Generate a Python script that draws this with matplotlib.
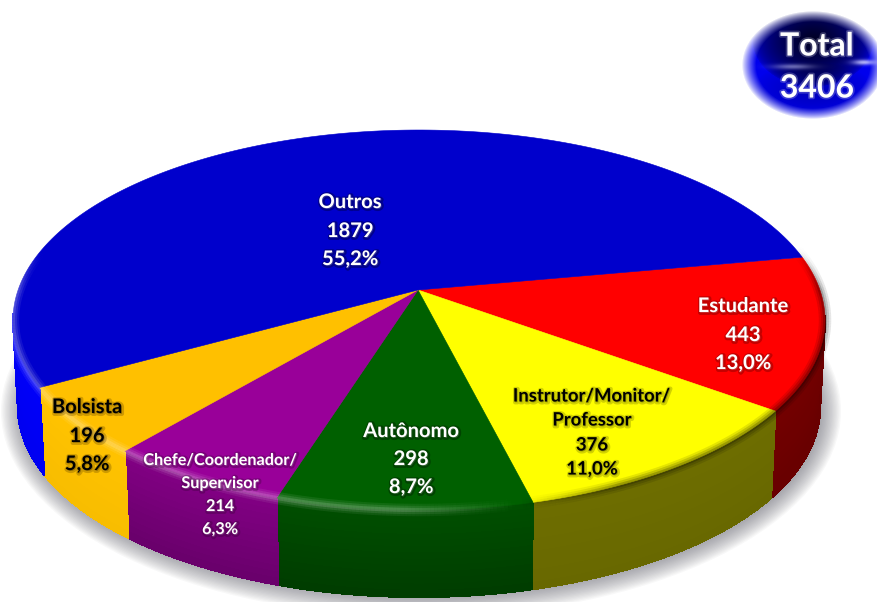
import numpy as np
import matplotlib
matplotlib.use('Agg')
import matplotlib.pyplot as plt
import matplotlib.patheffects as pe
from matplotlib.collections import PolyCollection, LineCollection
from matplotlib.patches import Polygon, Ellipse

# dados
categorias = ['Estudante', 'Instrutor/Monitor/\nProfessor', 'Autônomo',
              'Chefe/Coordenador/\nSupervisor', 'Bolsista', 'Outros']
valores = [443, 376, 298, 214, 196, 1879]
percentuais = ['13,0%', '11,0%', '8,7%', '6,3%', '5,8%', '55,2%']
total = 3406

# cores do topo e da lateral
cor_topo = ['#ff0000', '#ffff00', '#006000', '#990099', '#ffc000', '#0000cc']
cor_lado = ['#6e0000', '#6b6b00', '#004600', '#760078', '#fcc000', '#0000f5']
var_lado = [0.1, 0.05, 0.25, 0.2, 0.03, 0.03]
cor_texto = ['white', 'black', 'white', 'white', 'black', 'white']
cor_sombra = ['#400000', '#6b6b00', 'black', '#300030', '#604000', 'black']

# posicao dos rotulos (px) e tamanho da fonte
rot_x = [743, 592, 411, 220, 87, 350]
rot_y = [[306, 335, 363], [396, 420, 445, 469], [431, 459, 487],
         [461, 484, 507, 530], [407, 436, 464], [202, 231, 259]]
rot_fs = [14.5, 13.3, 14.5, 11.7, 14.5, 14.5]

# geometria do disco em perspectiva
cx, cy, rx, ry = 419, 320, 406, 190
apice = 0.158
inicio = 10.5
altura = 87

plt.rcParams['font.family'] = ['Lato', 'DejaVu Sans']
fig = plt.figure(figsize=(8.78, 6.02), dpi=100)
ax = fig.add_axes([0, 0, 1, 1])
ax.set_xlim(0, 878)
ax.set_ylim(602, 0)
ax.axis('off')


def projeta(theta):
    # circulo -> elipse, com o centro do circulo caindo no apice
    t = np.radians(theta)
    u, v = np.cos(t), np.sin(t)
    d = 1 + apice * v
    up = u * np.sqrt(1 - apice ** 2) / d
    vp = (v + apice) / d
    return cx + rx * up, cy - ry * vp


def clareia(cor, f):
    rgb = np.array(matplotlib.colors.to_rgb(cor)) * f
    return tuple(np.clip(rgb, 0, 1))


# sombra sob a pizza
for i in range(18):
    ax.add_patch(Ellipse((cx + 2, cy + altura + 4), 2 * (rx + 14 - i * 1.3), 2 * (ry + 16 - i * 1.3),
                         fc='#60606c', ec='none', alpha=0.045, zorder=1))

angulos = inicio - np.cumsum([0] + valores) / sum(valores) * 360

# lateral
for k, cor in enumerate(cor_lado):
    th = np.linspace(angulos[k], angulos[k + 1], 120)
    x, y = projeta(th)
    quads, cores = [], []
    faixas = 14
    for j in range(faixas):
        d0, d1 = altura * j / faixas, altura * (j + 1) / faixas
        f = 1 + var_lado[k] * (0.5 - j / (faixas - 1))
        for i in range(len(th) - 1):
            if y[i] < cy - 3 and y[i + 1] < cy - 3:
                continue
            e0 = 1 - 0.012 * d0 / altura
            e1 = 1 - 0.012 * d1 / altura
            quads.append([(cx + (x[i] - cx) * e0, y[i] + d0), (cx + (x[i + 1] - cx) * e0, y[i + 1] + d0),
                          (cx + (x[i + 1] - cx) * e1, y[i + 1] + d1), (cx + (x[i] - cx) * e1, y[i] + d1)])
            cores.append(clareia(cor, f))
    if quads:
        ax.add_collection(PolyCollection(quads, facecolors=cores, edgecolors=cores, linewidths=0.8,
                                         antialiaseds=False, zorder=2))

# topo
for k, cor in enumerate(cor_topo):
    th = np.linspace(angulos[k], angulos[k + 1], 200)
    x, y = projeta(th)
    pts = np.column_stack([np.r_[cx - 1, x], np.r_[cy - ry * apice, y]])
    ax.add_patch(Polygon(pts, closed=True, fc=cor, ec=cor, lw=0.4, zorder=3))

# brilho / escurecimento na borda
th = np.linspace(angulos[0], angulos[-1], 800)
x, y = projeta(th)
manter = y > cy - 70
x, y = x[manter], y[manter]
seg = np.stack([np.column_stack([x[:-1], y[:-1]]), np.column_stack([x[1:], y[1:]])], axis=1)
xm = (x[:-1] + x[1:]) / 2
ym = (y[:-1] + y[1:]) / 2
for lw, a in [(9, 0.10), (6, 0.14), (3, 0.2)]:
    cores = []
    for xi, yi in zip(xm, ym):
        h = (xi - 520) / 300
        fade = min((yi - (cy - 70)) / 40, 1)
        if h > 0:
            cores.append((0, 0, 0, a * min(h * 3, 1) * fade))
        else:
            cores.append((1, 1, 1, a * min(-h * 2.5, 1) * 0.7 * fade))
    ax.add_collection(LineCollection(seg, colors=cores, linewidths=lw, zorder=4))

# rotulos
for k, nome in enumerate(categorias):
    linhas = nome.split('\n') + [str(valores[k]), percentuais[k]]
    efeito = [pe.Stroke(linewidth=3, foreground=cor_sombra[k], alpha=0.3, offset=(0.6, -0.6)), pe.Normal()]
    for texto, yy in zip(linhas, rot_y[k]):
        ax.text(rot_x[k], yy, texto, color=cor_texto[k], fontsize=rot_fs[k], fontweight='bold',
                ha='center', va='center', path_effects=efeito, zorder=6)

# selo do total
bx, by, brx, bry = 813, 65, 71, 54
yy, xx = np.mgrid[0:130, 730:878]
nx, ny = (xx + 0.5 - bx) / brx, (yy + 0.5 - by) / bry
r = np.sqrt(nx ** 2 + ny ** 2)
escuro = np.clip(1 - np.sqrt((nx / 0.85) ** 2 + ((ny + 0.45) / 0.85) ** 2), 0, 1) ** 0.45
baixo = np.clip(1 - np.sqrt((nx / 0.85) ** 2 + ((ny - 0.45) / 0.5) ** 2), 0, 1) ** 0.7
azul = 0.93 - 0.8 * escuro - 0.2 * baixo
img = np.zeros(r.shape + (4,))
img[..., 2] = np.clip(azul, 0.16, 1)
img[..., 3] = np.clip((1.0 - r) / 0.2, 0, 1) ** 0.8
# reflexos
for hx, hy, hr, hv, ha in [(0.72, -0.05, 0.16, 0.05, 0.85), (-0.28, 0.03, 0.28, 0.05, 0.5)]:
    g = np.exp(-((nx - hx) / hr) ** 2 - ((ny - hy) / hv) ** 2) * ha
    img[..., :3] = img[..., :3] * (1 - g[..., None]) + np.array([0.8, 0.8, 1.0]) * g[..., None]
ax.imshow(img, extent=(730, 878, 130, 0), zorder=5, interpolation='bilinear', aspect='auto')
ax.set_xlim(0, 878)
ax.set_ylim(602, 0)

efeito_selo = [pe.Stroke(linewidth=2.5, foreground='#c0c0e0', alpha=0.3), pe.Normal()]
ax.text(817, 46, 'Total', color='white', fontsize=23, fontweight='bold', ha='center', va='center',
        path_effects=efeito_selo, zorder=7)
ax.text(817, 88, str(total), color='white', fontsize=23, fontweight='bold', ha='center', va='center',
        path_effects=efeito_selo, zorder=7)

fig.savefig('out.png', dpi=100)
